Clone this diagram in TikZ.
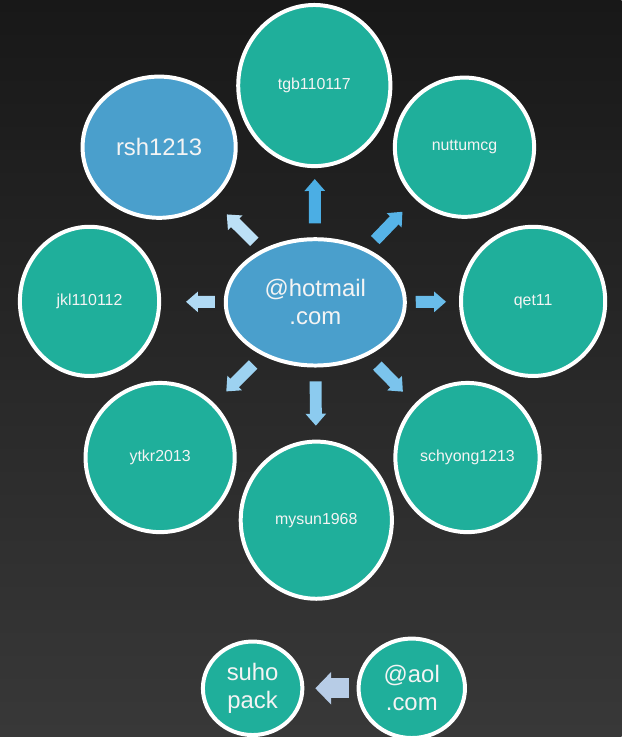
\documentclass[tikz,border=0pt]{standalone}
\usepackage{fontspec}
\setmainfont{Liberation Sans}
\usetikzlibrary{shapes.geometric,arrows.meta}
\definecolor{bubteal}{HTML}{1FAF9B}
\definecolor{bubblue}{HTML}{4A9FCC}
\definecolor{labwhite}{HTML}{F4F4F4}
\definecolor{bgtop}{HTML}{181818}
\definecolor{bgbot}{HTML}{383838}
\definecolor{arrN}{HTML}{4BAEE4}
\definecolor{arrNE}{HTML}{56B3E7}
\definecolor{arrE}{HTML}{69BCEA}
\definecolor{arrSE}{HTML}{7BC4ED}
\definecolor{arrS}{HTML}{8CCBEF}
\definecolor{arrSW}{HTML}{9DD2F1}
\definecolor{arrW}{HTML}{B0DAF4}
\definecolor{arrNW}{HTML}{BCE0F6}
\definecolor{aolarr}{HTML}{B7CCE6}
\begin{document}
\begin{tikzpicture}[x=1pt,y=-1pt,line join=round,
	bubble/.style={ellipse,draw=white,line width=4pt,fill=bubteal,text=labwhite,inner sep=0pt,outer sep=0pt,align=center,font=\fontsize{16}{19}\selectfont},
	bigtext/.style={font=\fontsize{24}{28}\selectfont},
	blk/.style={line width=12pt,-{Triangle[width=20pt,length=12pt]}}]
			\shade[top color=bgtop,bottom color=bgbot] (0,0) rectangle (625,740);
			% hotmail group
			\node[bubble,bigtext,fill=bubblue,minimum width=180pt,minimum height=127pt] (hub) at (317,304) {@hotmail\\.com};
			\node[bubble,minimum width=153pt,minimum height=162pt] (tgb) at (316,86) {tgb110117};
			\node[bubble,minimum width=140pt,minimum height=140pt] (nut) at (467,148) {nuttumcg};
			\node[bubble,bigtext,fill=bubblue,minimum width=154pt,minimum height=142pt] (rsh) at (160,148) {rsh1213};
			\node[bubble,minimum width=140pt,minimum height=150pt] (jkl) at (90,303) {jkl110112};
			\node[bubble,minimum width=145pt,minimum height=150pt] (qet) at (536,303) {qet11};
			\node[bubble,minimum width=150pt,minimum height=150pt] (ytkr) at (161,460) {ytkr2013};
			\node[bubble,minimum width=145pt,minimum height=150pt] (schy) at (470,460) {schyong1213};
			\node[bubble,minimum width=152pt,minimum height=158pt] (mysun) at (318,523) {mysun1968};
			\draw[blk,draw=arrN,shorten <=16pt,shorten >=13pt] (hub) -- (tgb);
			\draw[blk,draw=arrNE,shorten <=14pt,shorten >=20pt] (hub) -- (nut);
			\draw[blk,draw=arrE,shorten <=11pt,shorten >=15pt] (hub) -- (qet);
			\draw[blk,draw=arrSE,shorten <=16pt,shorten >=19pt] (hub) -- (schy);
			\draw[blk,draw=arrS,shorten <=16pt,shorten >=16pt] (hub) -- (mysun);
			\draw[blk,draw=arrSW,shorten <=15pt,shorten >=19pt] (hub) -- (ytkr);
			\draw[blk,draw=arrW,shorten <=11pt,shorten >=27pt] (hub) -- (jkl);
			\draw[blk,draw=arrNW,shorten <=13pt,shorten >=22pt] (hub) -- (rsh);
			% aol group
			\node[bubble,bigtext,minimum width=100pt,minimum height=94pt] (suho) at (254,692) {suho\\pack};
			\node[bubble,bigtext,minimum width=107pt,minimum height=100pt] (aol) at (414,692) {@aol\\.com};
			\draw[line width=20pt,draw=aolarr,-{Triangle[width=32pt,length=16pt]},shorten <=10pt,shorten >=13pt] (aol) -- (suho);
		\end{tikzpicture}
\end{document}
